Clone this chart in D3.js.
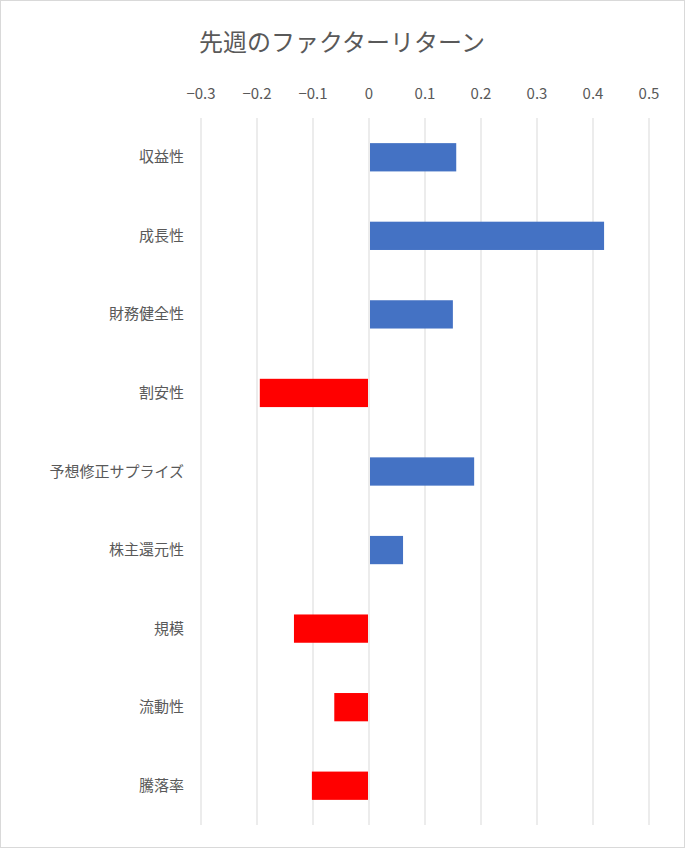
<!DOCTYPE html>
<html><head><meta charset="utf-8">
<script src="https://cdn.jsdelivr.net/npm/d3@7"></script>
<style>body{margin:0;background:#fff}</style></head>
<body><svg id="c" width="685" height="848"></svg>
<script>
const categories=["収益性","成長性","財務健全性","割安性","予想修正サプライズ","株主還元性","規模","流動性","騰落率"];
const values=[0.154,0.418,0.148,-0.195,0.186,0.059,-0.134,-0.062,-0.102];
const tickValues=[-0.3,-0.2,-0.1,0,0.1,0.2,0.3,0.4,0.5];
const font="'Noto Sans CJK JP','Noto Sans',sans-serif";
const svg=d3.select("#c");
svg.append("rect").attr("x",0.5).attr("y",0.5).attr("width",684).attr("height",847).attr("fill","#fff").attr("stroke","#d9d9d9");
const x=d3.scaleLinear().domain([-0.3,0.5]).range([201,649]);
const y=d3.scaleBand().domain(categories).range([118,825]).paddingInner(0.64).paddingOuter(0.32);
svg.append("text").attr("x",342).attr("y",51).attr("text-anchor","middle").attr("font-family",font).attr("font-size",24).attr("fill","#595959").text("先週のファクターリターン");
const g=svg.append("g");
g.selectAll("line.grid").data(tickValues).join("line").attr("x1",d=>x(d)).attr("x2",d=>x(d)).attr("y1",118).attr("y2",825).attr("stroke","#d9d9d9").attr("stroke-width",1);
g.selectAll("text.tick").data(tickValues).join("text").attr("x",d=>x(d)).attr("y",99).attr("text-anchor","middle").attr("font-family",font).attr("font-size",15).attr("fill","#595959").text(d=>d3.format("")(d));
g.selectAll("rect.bar").data(values).join("rect")
 .attr("x",d=>d<0?x(d):x(0)+1).attr("width",d=>Math.abs(x(d)-x(0))-(d<0?1:0))
 .attr("y",(d,i)=>y(categories[i])).attr("height",y.bandwidth())
 .attr("fill",d=>d<0?"#FF0000":"#4472C4");
g.selectAll("text.cat").data(categories).join("text").attr("x",184).attr("y",d=>y(d)+y.bandwidth()/2+5).attr("text-anchor","end").attr("font-family",font).attr("font-size",15).attr("fill","#595959").text(d=>d);
</script></body></html>
